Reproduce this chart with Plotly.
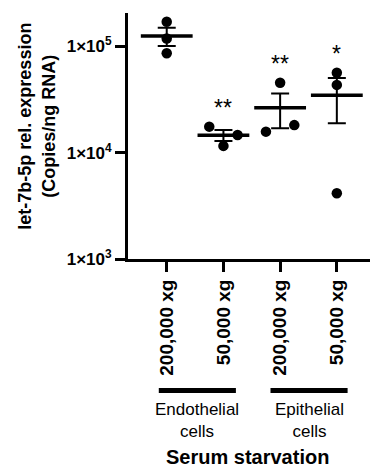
import numpy as np
import plotly.graph_objects as go

# let-7b-5p copies per ng RNA, serum starvation, three replicates per group
groups = ["200,000 xg", "50,000 xg", "200,000 xg", "50,000 xg"]
g1_endo_200k = [171000, 119000, 86300]
g2_endo_50k = [17600, 14700, 11600]
g3_epi_200k = [45600, 15800, 18200]
g4_epi_50k = [56600, 43500, 4150]
significance = ["", "**", "**", "*"]
cell_types = ["Endothelial<br>cells", "Epithelial<br>cells"]
y_tickvals = [1e3, 1e4, 1e5]
y_ticktext = ["1×10<sup>3</sup>", "1×10<sup>4</sup>", "1×10<sup>5</sup>"]

series = [g1_endo_200k, g2_endo_50k, g3_epi_200k, g4_epi_50k]
# horizontal spread of overlapping dots within a group (category units)
swarm = [[0, 0, 0], [-0.25, 0.25, 0], [0, -0.25, 0.25], [0, 0, 0]]

FONT = "Liberation Sans, Arial, sans-serif"

fig = go.Figure()

means = [float(np.mean(v)) for v in series]
sems = [float(np.std(v, ddof=1) / np.sqrt(len(v))) for v in series]
xs = list(range(len(series)))

# mean line with SEM whiskers
fig.add_trace(go.Scatter(
    x=xs, y=means, mode="markers",
    marker=dict(symbol="line-ew", size=37, color="black",
                line=dict(color="black", width=3.5)),
    error_y=dict(type="data", array=sems, visible=True,
                 color="black", thickness=2, width=9),
    showlegend=False, hoverinfo="skip",
))

# individual replicates
for i, vals in enumerate(series):
    fig.add_trace(go.Scatter(
        x=[i + o for o in swarm[i]], y=vals, mode="markers",
        marker=dict(size=10.5, color="black"),
        showlegend=False,
    ))

# significance stars above each group
for i, (s, vals) in enumerate(zip(significance, series)):
    if s:
        fig.add_annotation(
            x=i, y=np.log10(max(vals)), xref="x", yref="y",
            text=s, showarrow=False, yshift=19,
            font=dict(family=FONT, size=23, color="black"),
        )

# cell-type grouping bars and labels
for k, (lbl, (x0, x1)) in enumerate(zip(cell_types, [(-0.14, 1.22), (1.83, 3.19)])):
    fig.add_shape(type="line", xref="x", yref="paper",
                  x0=x0, x1=x1, y0=-0.535, y1=-0.535,
                  line=dict(color="black", width=5))
    fig.add_annotation(
        x=(x0 + x1) / 2, y=-0.565, xref="x", yref="paper",
        text=lbl, showarrow=False, yanchor="top",
        font=dict(family=FONT, size=17, color="black"),
    )

fig.add_annotation(
    x=1.425, y=-0.805, xref="x", yref="paper",
    text="Serum starvation", showarrow=False,
    xanchor="center", yanchor="middle",
    font=dict(family=FONT, size=20, color="black", weight="bold"),
)

fig.add_annotation(
    x=-0.378, y=0.54, xref="paper", yref="paper",
    text="let-7b-5p rel. expression<br>(Copies/ng RNA)",
    textangle=-90, showarrow=False, xanchor="center", yanchor="middle",
    font=dict(family=FONT, size=18, color="black", weight="bold"),
)

fig.update_xaxes(
    range=[-0.683, 3.585], tickvals=xs, ticktext=groups, tickangle=-90,
    showline=True, linecolor="black", linewidth=3,
    ticks="outside", ticklen=10, tickwidth=3, tickcolor="black",
    showgrid=False, zeroline=False,
    tickfont=dict(family=FONT, size=19, color="black", weight="bold"),
)
fig.update_yaxes(
    type="log", range=[3, 5.315], tickvals=y_tickvals, ticktext=y_ticktext,
    showline=True, linecolor="black", linewidth=3,
    ticks="outside", ticklen=10, tickwidth=3, tickcolor="black",
    showgrid=False, zeroline=False,
    tickfont=dict(family=FONT, size=17, color="black", weight="bold"),
)

fig.update_layout(
    width=370, height=468,
    margin=dict(l=128, r=0, t=13, b=209),
    plot_bgcolor="white", paper_bgcolor="white",
    font=dict(family=FONT, color="black"),
)

fig.write_html("out.html")
